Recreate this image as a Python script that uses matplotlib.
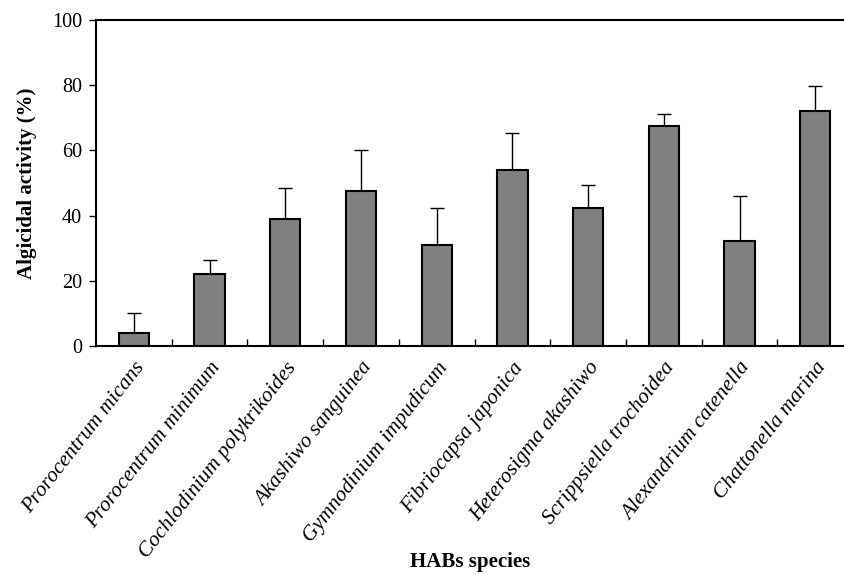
import matplotlib
matplotlib.use("Agg")
import matplotlib.pyplot as plt
import numpy as np

species = ["Prorocentrum micans", "Prorocentrum minimum", "Cochlodinium polykrikoides",
           "Akashiwo sanguinea", "Gymnodinium impudicum", "Fibriocapsa japonica",
           "Heterosigma akashiwo", "Scrippsiella trochoidea", "Alexandrium catenella",
           "Chattonella marina"]
activity = [4.1, 22.1, 39.0, 47.5, 30.9, 53.9, 42.3, 67.6, 32.3, 72.1]
error = [5.9, 4.4, 9.5, 12.6, 11.4, 11.4, 7.1, 3.6, 13.7, 7.7]
yticks = [0, 20, 40, 60, 80, 100]

plt.rcParams['font.family'] = ['Liberation Serif', 'DejaVu Serif']

fig = plt.figure(figsize=(8.44, 5.74), dpi=100)
ax = fig.add_axes([96/844, 228/574, (844-96)/844, 326/574])

x = np.arange(len(species))
ax.bar(x, activity, width=0.4, color='#808080', edgecolor='black', linewidth=1.5, zorder=2)
ax.errorbar(x, activity, yerr=[np.zeros(len(error)), error], fmt='none',
            ecolor='black', elinewidth=1.0, capsize=4.7, capthick=1.0, zorder=1)

ax.set_xlim(-0.5, 9.38)
ax.set_ylim(0, 100)
ax.set_yticks(yticks)
ax.set_yticklabels([str(v) for v in yticks], fontsize=14.5)
ax.tick_params(axis='y', direction='out', length=5, width=1, pad=5)

ax.set_xticks(x)
ax.set_xticklabels(species, rotation=52, ha='right', rotation_mode='anchor',
                   fontsize=15.5, style='italic')
ax.tick_params(axis='x', which='major', length=0, pad=9)
ax.set_xticks(np.arange(0.5, 9.5, 1), minor=True)
ax.tick_params(axis='x', which='minor', direction='in', length=5, width=1)

for s in ['left', 'top', 'bottom']:
    ax.spines[s].set_linewidth(1.5)
ax.spines['right'].set_visible(False)

ax.set_ylabel('Algicidal activity (%)', fontsize=15, fontweight='bold', labelpad=11)
fig.text(470/844, 1 - 562/574, 'HABs species', fontsize=15, fontweight='bold',
         ha='center', va='center')

fig.savefig('out.png', dpi=100)
